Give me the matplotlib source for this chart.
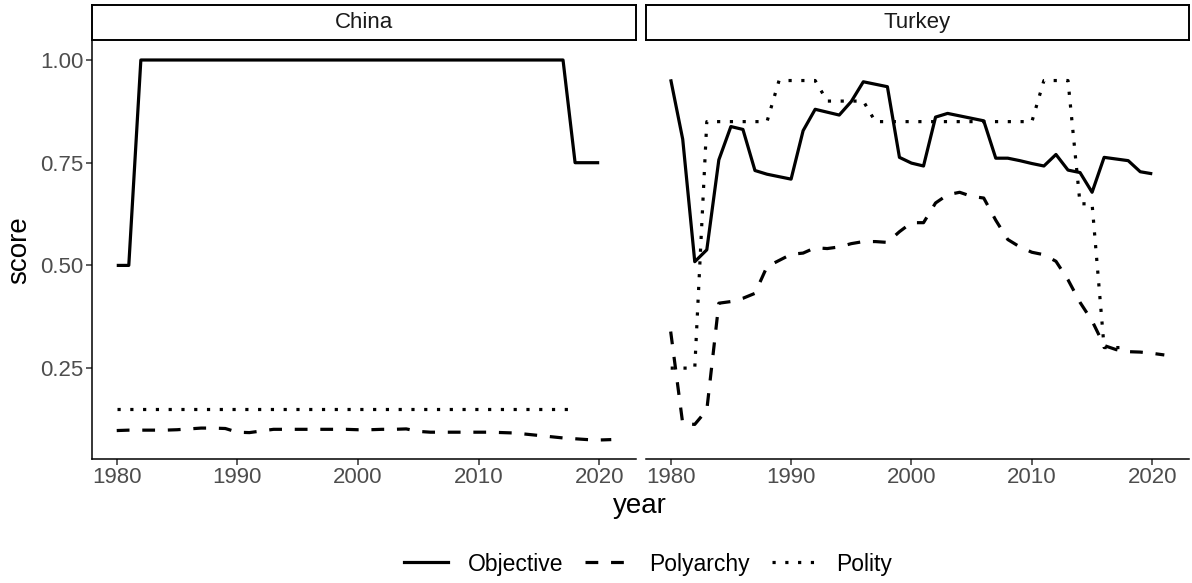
import matplotlib
matplotlib.use("Agg")
import matplotlib.pyplot as plt
from matplotlib.lines import Line2D

plt.rcParams['font.family'] = ['Liberation Sans', 'DejaVu Sans']

years = list(range(1980, 2022))

# China
china_objective_years = list(range(1980, 2021))
china_objective = [0.5, 0.5] + [1.0] * 36 + [0.75, 0.75, 0.75]
china_polyarchy = [0.098, 0.099, 0.099, 0.099, 0.099, 0.100, 0.102, 0.104, 0.104, 0.103,
                   0.094, 0.093, 0.097, 0.101, 0.101, 0.101, 0.101, 0.101, 0.101, 0.101,
                   0.100, 0.100, 0.101, 0.101, 0.102, 0.096, 0.094, 0.094, 0.094, 0.094,
                   0.094, 0.094, 0.093, 0.092, 0.089, 0.086, 0.083, 0.080, 0.078, 0.076,
                   0.075, 0.076]
china_polity_years = list(range(1980, 2019))
china_polity = [0.15] * 39

# Turkey
turkey_objective_years = list(range(1980, 2021))
turkey_objective = [0.953, 0.807, 0.509, 0.538, 0.757, 0.838, 0.831, 0.731, 0.722, 0.716,
                    0.710, 0.828, 0.880, 0.873, 0.866, 0.899, 0.947, 0.941, 0.935, 0.763,
                    0.749, 0.742, 0.861, 0.870, 0.864, 0.858, 0.852, 0.761, 0.761, 0.755,
                    0.748, 0.742, 0.770, 0.732, 0.726, 0.678, 0.763, 0.759, 0.755, 0.728,
                    0.723]
turkey_polyarchy = [0.339, 0.115, 0.113, 0.148, 0.408, 0.412, 0.420, 0.432, 0.497, 0.512,
                    0.527, 0.530, 0.543, 0.541, 0.545, 0.553, 0.558, 0.558, 0.556, 0.582,
                    0.604, 0.604, 0.652, 0.672, 0.678, 0.668, 0.664, 0.610, 0.563, 0.545,
                    0.532, 0.526, 0.510, 0.465, 0.410, 0.365, 0.305, 0.295, 0.290, 0.289,
                    0.286, 0.282]
turkey_polity_years = list(range(1980, 2019))
turkey_polity = ([0.25] * 3 + [0.85] * 6 + [0.95] * 4 + [0.90] * 4 + [0.85] * 14
                 + [0.95] * 3 + [0.65] * 2 + [0.30] * 3)

countries = ["China", "Turkey"]
series = {
    "China": [(china_objective_years, china_objective),
              (years, china_polyarchy),
              (china_polity_years, china_polity)],
    "Turkey": [(turkey_objective_years, turkey_objective),
               (years, turkey_polyarchy),
               (turkey_polity_years, turkey_polity)],
}
measure_names = ["Objective", "Polyarchy", "Polity"]
x_ticks = [1980, 1990, 2000, 2010, 2020]
y_ticks = [0.25, 0.50, 0.75, 1.00]

W, H = 1192, 583
fig = plt.figure(figsize=(W / 100, H / 100), dpi=100)

LW = 2.3
styles = [dict(linestyle="-"),
          dict(linestyle=(0, (4, 4))),
          dict(linestyle=(0, (1, 3)))]

def px_axes(left, top, right, bottom):
    return fig.add_axes([left / W, 1 - bottom / H, (right - left) / W, (bottom - top) / H])

panel_x = [(92, 636), (646, 1189)]
panel_top, panel_bottom = 41, 459

all_vals = china_objective + china_polyarchy + china_polity + turkey_objective + turkey_polyarchy + turkey_polity
ymin, ymax = min(all_vals), max(all_vals)
yexp = 0.05 * (ymax - ymin)
xmin, xmax = 1980, 2021
xexp = 0.05 * (xmax - xmin)

tick_color = "#4D4D4D"
for i, (country, (l, r)) in enumerate(zip(countries, panel_x)):
    ax = px_axes(l, panel_top, r, panel_bottom)
    for (xs, ys), st in zip(series[country], styles):
        ax.plot(xs, ys, color="black", lw=LW, solid_capstyle="butt",
                dash_capstyle="butt", **st)
    ax.set_xlim(xmin - xexp, xmax + xexp)
    ax.set_ylim(ymin - yexp, ymax + yexp)
    for s in ["top", "right"]:
        ax.spines[s].set_visible(False)
    ax.spines["bottom"].set_linewidth(1.1)
    ax.set_xticks(x_ticks)
    ax.set_xticklabels([str(t) for t in x_ticks])
    ax.tick_params(axis="x", length=4, width=1.1, color="#333333",
                   labelsize=16, labelcolor=tick_color, pad=2)
    if i == 0:
        ax.spines["left"].set_linewidth(1.1)
        ax.set_yticks(y_ticks)
        ax.set_yticklabels([f"{t:.2f}" for t in y_ticks])
        ax.tick_params(axis="y", length=4, width=1.1, color="#333333",
                       labelsize=16, labelcolor=tick_color, pad=2)
    else:
        ax.spines["left"].set_visible(False)
        ax.set_yticks([])
    # facet strip
    sax = px_axes(l, 5, r, 40)
    sax.set_xticks([])
    sax.set_yticks([])
    for s in sax.spines.values():
        s.set_linewidth(1.4)
        s.set_color("black")
    sax.text(0.5, 0.5, country, ha="center", va="center", fontsize=16,
             color="#1A1A1A", transform=sax.transAxes)

fig.text(19 / W, 1 - 250 / H, "score", rotation=90, ha="center", va="center", fontsize=20)
fig.text(640 / W, 1 - 506 / H, "year", ha="center", va="center", fontsize=20)

handles = [Line2D([0], [0], color="black", lw=LW, dash_capstyle="butt", **st) for st in styles]
fig.legend(handles, measure_names, loc="center", bbox_to_anchor=(648 / W, 1 - 564 / H),
           ncol=3, frameon=False, fontsize=16.5, handlelength=1.9, handletextpad=0.9,
           columnspacing=0.95)

fig.savefig("out.png", dpi=100)
